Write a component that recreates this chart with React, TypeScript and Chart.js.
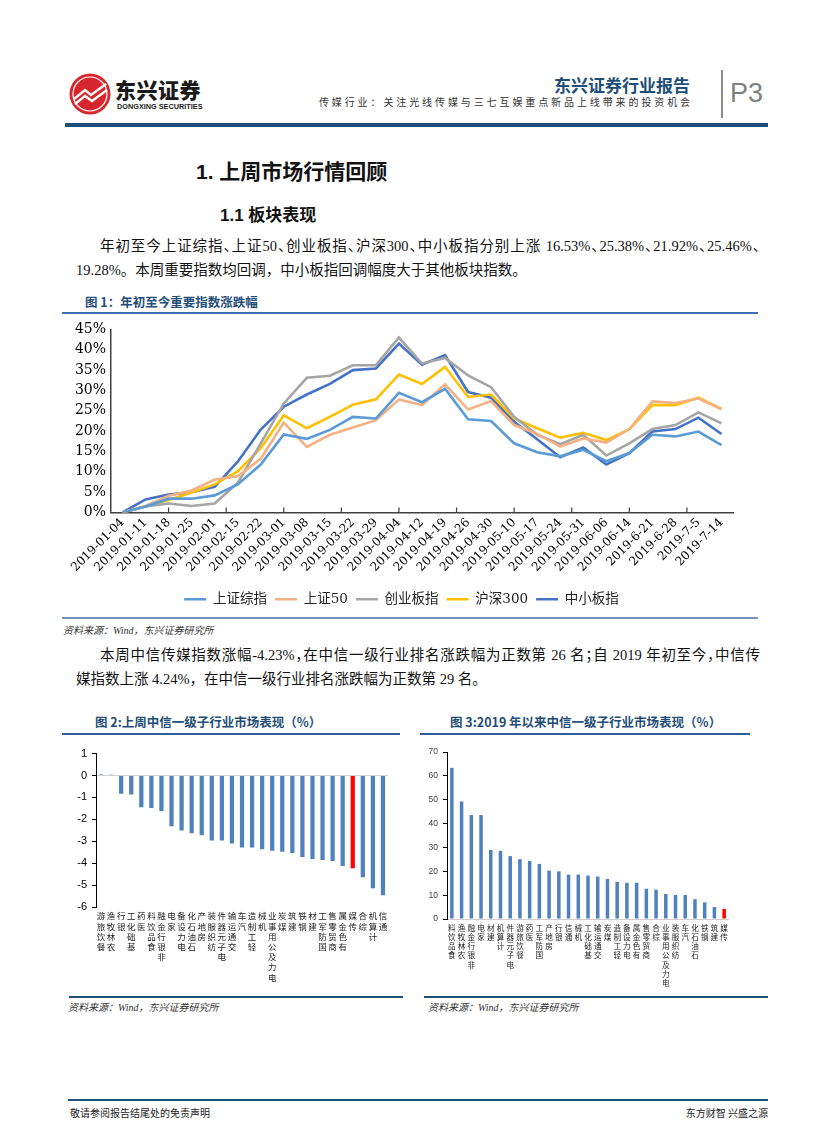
import React, { useEffect, useRef } from 'react';
import { Chart, registerables } from 'chart.js';

Chart.register(...registerables);

// ---------- Figure 1 data ----------
const dateLabels = [
  '2019-01-04', '2019-01-11', '2019-01-18', '2019-01-25', '2019-02-01', '2019-02-15',
  '2019-02-22', '2019-03-01', '2019-03-08', '2019-03-15', '2019-03-22', '2019-03-29',
  '2019-04-04', '2019-04-12', '2019-04-19', '2019-04-26', '2019-04-30', '2019-05-10',
  '2019-05-17', '2019-05-24', '2019-05-31', '2019-06-06', '2019-06-14', '2019-6-21',
  '2019-6-28', '2019-7-5', '2019-7-14',
];
const shComposite = [0, 1.5, 3.4, 3.4, 4.2, 6.9, 11.8, 19.2, 18.1, 20.3, 23.5, 23.1, 29.4, 27.1, 30.4, 22.9, 22.5, 17.0, 14.8, 13.8, 15.4, 12.6, 14.6, 19.1, 18.7, 19.9, 16.53];
const sh50 = [0, 1.6, 4.1, 5.4, 8.1, 8.9, 13.2, 22.1, 16.1, 19.1, 20.9, 22.7, 27.8, 26.4, 31.5, 25.3, 27.4, 21.5, 19.3, 16.2, 18.2, 17.2, 20.5, 27.3, 26.9, 28.0, 25.38];
const chinext = [0, 1.5, 2.2, 1.6, 2.2, 7.3, 17.0, 26.8, 33.1, 33.6, 36.2, 36.2, 43.0, 36.6, 38.0, 33.7, 30.8, 23.5, 19.1, 16.8, 19.1, 14.0, 17.0, 20.5, 21.5, 24.6, 21.92];
const hs300 = [0, 1.5, 3.1, 4.9, 6.9, 10.1, 15.8, 23.9, 20.7, 23.5, 26.5, 27.8, 33.9, 31.6, 35.8, 28.4, 29.0, 23.1, 20.7, 18.4, 19.6, 17.8, 20.5, 26.4, 26.4, 28.2, 25.46];
const smeBoard = [0, 3.2, 4.4, 5.0, 6.3, 12.5, 20.4, 26.0, 29.0, 31.6, 35.0, 35.4, 41.5, 36.3, 38.7, 29.6, 28.2, 22.3, 18.0, 13.6, 16.0, 11.8, 14.6, 19.9, 20.5, 23.3, 19.28];
const seriesNames = ['上证综指', '上证50', '创业板指', '沪深300', '中小板指'];
const seriesData = [shComposite, sh50, chinext, hs300, smeBoard];
const seriesColors = ['#5b9bd5', '#f4b183', '#a5a5a5', '#ffc000', '#4472c4'];

// ---------- Figure 2 data ----------
const weekCats = [
  '餐饮旅游', '农林牧渔', '银行', '基础化工', '医药', '食品饮料', '非银行金融', '家电',
  '电力设备', '石油石化', '房地产', '纺织服装', '电子元器件', '交通运输', '汽车', '轻工制造',
  '机械', '电力及公用事业', '煤炭', '建筑', '钢铁', '建材', '国防军工', '商贸零售',
  '有色金属', '传媒', '综合', '计算机', '通信',
];
const weekVals = [0.05, 0.03, -0.83, -0.87, -1.45, -1.48, -1.62, -2.31, -2.51, -2.64, -2.73, -2.97, -2.97, -3.10, -3.28, -3.29, -3.36, -3.43, -3.48, -3.54, -3.72, -3.81, -3.85, -3.90, -4.13, -4.23, -4.64, -5.15, -5.46];

// ---------- Figure 3 data ----------
const ytdCats = [
  '食品饮料', '农林牧渔', '非银行金融', '家电', '建材', '计算机', '电子元器件', '餐饮旅游',
  '医药', '国防军工', '房地产', '银行', '通信', '机械', '基础化工', '交通运输',
  '煤炭', '轻工制造', '电力设备', '有色金属', '商贸零售', '综合', '电力及公用事业', '纺织服装',
  '汽车', '石油石化', '钢铁', '建筑', '传媒',
];
const ytdVals = [63.4, 49.3, 43.6, 43.6, 29.0, 28.6, 26.4, 25.1, 24.3, 23.1, 20.3, 20.0, 18.6, 18.6, 18.2, 17.8, 16.8, 15.6, 15.2, 15.2, 12.7, 12.3, 10.5, 10.1, 10.1, 8.3, 7.0, 5.0, 4.24];

const highlightCat = '传媒';

const CJK = '"Noto Sans CJK SC", sans-serif';
const SERIF_TEXT = '"Liberation Serif", "Noto Sans CJK SC", serif';
const NAVY = '#1f4e79';
const BAR_BLUE = '#4f81bd';

const innerTicks = {
  id: 'innerTicks',
  afterDraw(chart: any) {
    const xs = chart.scales.x;
    const { ctx, chartArea } = chart;
    ctx.save();
    ctx.strokeStyle = '#404040';
    ctx.lineWidth = 1.2;
    for (let v = 2; v < dateLabels.length - 0.5; v += 2.5) {
      const px = xs.getPixelForValue(v);
      ctx.beginPath();
      ctx.moveTo(px, chartArea.bottom);
      ctx.lineTo(px, chartArea.bottom - 5);
      ctx.stroke();
    }
    ctx.restore();
  },
};

function lineConfig(): any {
  return {
    type: 'line',
    data: {
      labels: dateLabels,
      datasets: seriesData.map((d, i) => ({
        label: seriesNames[i],
        data: d,
        borderColor: seriesColors[i],
        backgroundColor: seriesColors[i],
        borderWidth: 2.6,
        pointRadius: 0,
        pointStyle: 'line',
        tension: 0,
        fill: false,
      })),
    },
    options: {
      animation: false,
      responsive: false,
      layout: { padding: { top: 9, right: 37, left: 10, bottom: 0 } },
      plugins: {
        legend: {
          position: 'bottom',
          labels: {
            usePointStyle: true,
            pointStyle: 'line',
            pointStyleWidth: 22,
            padding: 8,
            color: '#222',
            font: { family: '"DejaVu Serif", "Noto Sans CJK SC", serif', size: 13.5 },
          },
        },
        tooltip: { enabled: false },
      },
      scales: {
        x: {
          offset: true,
          grid: { display: false, drawTicks: false },
          border: { display: true, color: '#404040', width: 1.5 },
          ticks: {
            autoSkip: false,
            minRotation: 45,
            maxRotation: 45,
            padding: 3,
            color: '#000',
            font: { family: '"DejaVu Serif", serif', size: 12 },
          },
          afterFit: (s: any) => { s.height = 72; },
        },
        y: {
          min: 0,
          max: 45,
          ticks: {
            autoSkip: false,
            stepSize: 5,
            padding: 5,
            color: '#000',
            font: { family: '"DejaVu Serif", serif', size: 14 },
            callback: (v: any) => v + '%',
          },
          grid: { display: false, drawTicks: false },
          border: { display: true, color: '#404040', width: 1.5 },
          afterFit: (s: any) => { s.width = 41; },
        },
      },
    },
    plugins: [innerTicks],
  };
}

function barConfig(
  cats: string[], vals: number[], o: {
    min: number; max: number; step: number; barPct: number; yWidth: number; xHeight: number;
    padRight: number; tickSize: number; tickColor: string; labelSize: number; labelLH: number;
  }
): any {
  return {
    type: 'bar',
    data: {
      labels: cats.map((c) => Array.from(c).reverse()),
      datasets: [{
        data: vals,
        backgroundColor: cats.map((c) => (c === highlightCat ? '#ff0000' : BAR_BLUE)),
        barPercentage: o.barPct,
        categoryPercentage: 1,
      }],
    },
    options: {
      animation: false,
      responsive: false,
      layout: { padding: { top: 8, right: o.padRight, left: 0, bottom: 0 } },
      plugins: { legend: { display: false }, tooltip: { enabled: false } },
      scales: {
        x: {
          grid: { display: false, drawTicks: false },
          border: { display: false },
          ticks: {
            autoSkip: false,
            minRotation: 0,
            maxRotation: 0,
            padding: 4,
            color: '#222',
            font: { family: CJK, size: o.labelSize, lineHeight: o.labelLH },
          },
          afterFit: (s: any) => { s.height = o.xHeight; },
        },
        y: {
          min: o.min,
          max: o.max,
          ticks: {
            autoSkip: false,
            stepSize: o.step,
            padding: 5,
            color: o.tickColor,
            font: { family: '"Liberation Sans", Arial, sans-serif', size: o.tickSize },
          },
          grid: {
            color: (c: any) => (c.tick && c.tick.value === 0 ? '#d0d0d0' : 'rgba(0,0,0,0)'),
            tickColor: '#000',
            tickLength: 4,
            lineWidth: 1,
          },
          border: { display: true, color: '#000', width: 1 },
          afterFit: (s: any) => { s.width = o.yWidth; },
        },
      },
    },
  };
}

function ChartCanvas(props: { make: () => any; left: number; top: number; width: number; height: number }) {
  const ref = useRef<HTMLCanvasElement>(null);
  useEffect(() => {
    const chart = new Chart(ref.current as HTMLCanvasElement, props.make());
    return () => chart.destroy();
  }, []);
  return (
    <canvas
      ref={ref}
      width={props.width}
      height={props.height}
      style={{ position: 'absolute', left: props.left, top: props.top, width: props.width, height: props.height }}
    />
  );
}

const abs = (left: number, top: number, extra: React.CSSProperties = {}): React.CSSProperties => ({
  position: 'absolute', left, top, whiteSpace: 'nowrap', margin: 0, ...extra,
});

function Rule(p: { left: number; top: number; width: number; height: number; color: string }) {
  return <div style={{ position: 'absolute', left: p.left, top: p.top, width: p.width, height: p.height, background: p.color }} />;
}

export default function App() {
  const bodyText: React.CSSProperties = { fontFamily: SERIF_TEXT, fontSize: 14.5, lineHeight: '24px', color: '#111' };
  const justLine: React.CSSProperties = { ...bodyText, width: 660, textAlign: 'justify', textAlignLast: 'justify' as any, fontFeatureSettings: '"halt"' };
  const figTitle: React.CSSProperties = { fontFamily: CJK, fontSize: 12.5, fontWeight: 700, color: NAVY, lineHeight: '16px' };
  const source: React.CSSProperties = { fontFamily: SERIF_TEXT, fontSize: 10, fontStyle: 'italic', color: '#333', lineHeight: '14px' };

  return (
    <div style={{ position: 'absolute', left: 0, top: 0, width: 827, height: 1122, background: '#fff', overflow: 'hidden' }}>
      {/* Header */}
      <svg width={44} height={44} viewBox="0 0 44 44" style={{ position: 'absolute', left: 68, top: 72 }}>
        <circle cx={22} cy={22} r={20.5} fill="#d7262d" />
        <circle cx={22} cy={22} r={17} fill="none" stroke="#fff" strokeWidth={1.2} />
        <path d="M6 27 L17 18 L23 23 L38 12" fill="none" stroke="#fff" strokeWidth={2.4} />
        <path d="M7 32 L17 24 L24 29 L39 18" fill="none" stroke="#fff" strokeWidth={2.4} />
      </svg>
      <div style={abs(115, 76, { fontFamily: CJK, fontSize: 21, fontWeight: 900, color: '#1a1a1a', lineHeight: '26px', letterSpacing: 0.5 })}>东兴证券</div>
      <div style={abs(117, 102, { fontFamily: '"Liberation Sans", Arial, sans-serif', fontSize: 7.3, fontWeight: 700, color: '#222', lineHeight: '10px' })}>DONGXING SECURITIES</div>
      <div style={abs(470, 73, { width: 220, textAlign: 'right', fontFamily: CJK, fontSize: 17, fontWeight: 700, color: NAVY, lineHeight: '24px' })}>东兴证券行业报告</div>
      <div style={abs(280, 95, { width: 413, textAlign: 'right', fontFamily: CJK, fontSize: 10, color: '#333', lineHeight: '14px', letterSpacing: 2.9 })}>传媒行业：关注光线传媒与三七互娱重点新品上线带来的投资机会</div>
      <Rule left={721} top={70} width={1.5} height={48} color="#8c8c8c" />
      <div style={abs(730, 77, { fontFamily: '"Liberation Sans", Arial, sans-serif', fontSize: 27, color: '#808080', lineHeight: '32px' })}>P3</div>
      <Rule left={65} top={123} width={703} height={4} color={NAVY} />

      {/* Section headings */}
      <div style={abs(196, 160, { fontFamily: '"Liberation Sans", "Noto Sans CJK SC", sans-serif', fontSize: 21, fontWeight: 700, color: '#111', lineHeight: '24px' })}>1. 上周市场行情回顾</div>
      <div style={abs(220, 204, { fontFamily: '"Liberation Sans", "Noto Sans CJK SC", sans-serif', fontSize: 17, fontWeight: 700, color: '#111', lineHeight: '24px' })}>1.1 板块表现</div>

      {/* Paragraph 1 */}
      <div style={abs(100, 234, justLine)}>年初至今上证综指、上证50、创业板指、沪深300、中小板指分别上涨 16.53%、25.38%、21.92%、25.46%、</div>
      <div style={abs(76, 258, bodyText)}>19.28%。本周重要指数均回调，中小板指回调幅度大于其他板块指数。</div>

      {/* Figure 1 */}
      <div style={abs(85, 294, figTitle)}>图 1：年初至今重要指数涨跌幅</div>
      <Rule left={62} top={312} width={696} height={1.6} color="#3a6fb0" />
      <ChartCanvas make={lineConfig} left={60} top={316} width={710} height={300} />
      <Rule left={62} top={617} width={696} height={1.6} color="#7393bd" />
      <div style={abs(63, 624, source)}>资料来源：Wind，东兴证券研究所</div>

      {/* Paragraph 2 */}
      <div style={abs(100, 643, justLine)}>本周中信传媒指数涨幅-4.23%，在中信一级行业排名涨跌幅为正数第 26 名；自 2019 年初至今，中信传</div>
      <div style={abs(76, 667, bodyText)}>媒指数上涨 4.24%，在中信一级行业排名涨跌幅为正数第 29 名。</div>

      {/* Figure 2 & 3 titles */}
      <div style={abs(95, 714, figTitle)}>图 2:上周中信一级子行业市场表现（%）</div>
      <div style={abs(450, 714, figTitle)}>图 3:2019 年以来中信一级子行业市场表现（%）</div>
      <Rule left={62} top={733} width={338} height={1.6} color="#2e5d9a" />
      <Rule left={420} top={733} width={330} height={1.6} color="#2e5d9a" />

      <ChartCanvas
        make={() => barConfig(weekCats, weekVals, {
          min: -6, max: 1, step: 1, barPct: 0.42, yWidth: 34, xHeight: 85, padRight: 14,
          tickSize: 11, tickColor: '#000', labelSize: 8.5, labelLH: 1.2,
        })}
        left={62} top={742} width={340} height={250}
      />
      <ChartCanvas
        make={() => barConfig(ytdCats, ytdVals, {
          min: 0, max: 70, step: 10, barPct: 0.36, yWidth: 27, xHeight: 73, padRight: 36,
          tickSize: 8.5, tickColor: '#404040', labelSize: 7.6, labelLH: 1.22,
        })}
        left={420} top={742} width={345} height={250}
      />

      <Rule left={69} top={996} width={334} height={2} color={NAVY} />
      <Rule left={424} top={996} width={344} height={2} color={NAVY} />
      <div style={abs(68, 1001, source)}>资料来源：Wind，东兴证券研究所</div>
      <div style={abs(428, 1001, source)}>资料来源：Wind，东兴证券研究所</div>

      {/* Footer */}
      <Rule left={68} top={1099} width={700} height={2} color={NAVY} />
      <div style={abs(70, 1106, { fontFamily: CJK, fontSize: 10, color: '#222', lineHeight: '14px' })}>敬请参阅报告结尾处的免责声明</div>
      <div style={abs(568, 1106, { width: 200, textAlign: 'right', fontFamily: CJK, fontSize: 10, color: '#222', lineHeight: '14px' })}>东方财智 兴盛之源</div>
    </div>
  );
}
